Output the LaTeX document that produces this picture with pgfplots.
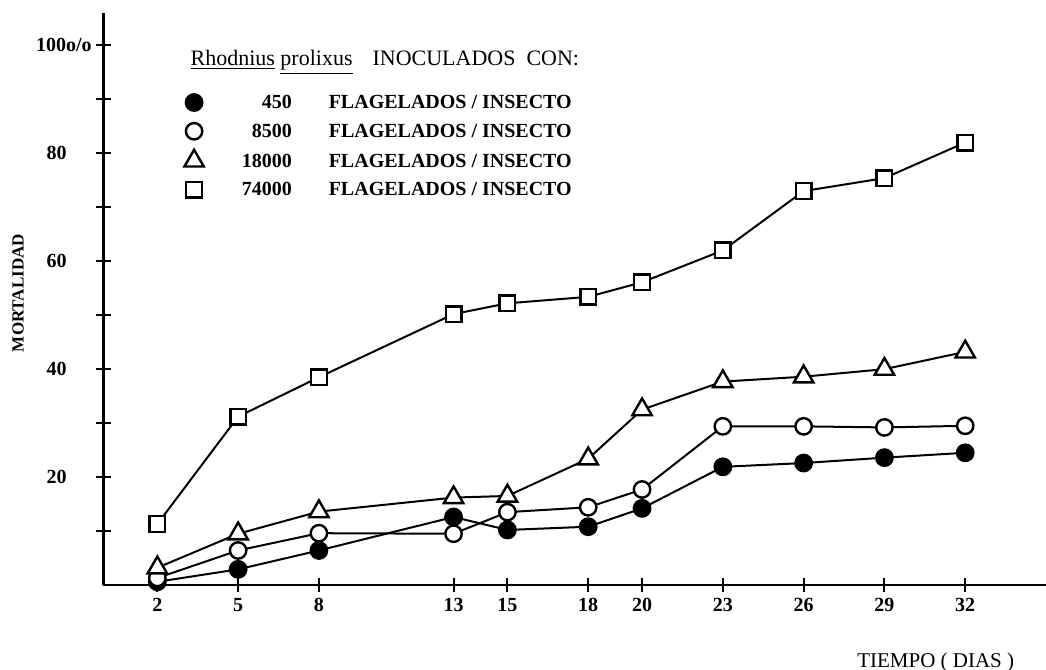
\documentclass[border=0pt]{standalone}
\usepackage{fontspec}
\setmainfont{Liberation Serif}
\usepackage{pgfplots}
\usepackage{pgfplotstable}
\pgfplotsset{compat=1.18}

\pgfplotstableread{
dia  m450 m8500 m18000 m74000
2    0.6  1.3   3.2    11.3
5    2.9  6.4   9.5    31.2
8    6.4  9.6   13.6   38.5
13   12.6 9.5   16.2   50.2
15   10.2 13.5  16.5   52.2
18   10.8 14.4  23.4   53.4
20   14.2 17.7  32.5   56.1
23   21.9 29.4  37.7   62.0
26   22.6 29.4  38.6   73.0
29   23.6 29.2  40.0   75.4
32   24.5 29.5  43.2   82.0
}\datos

\begin{document}
\begin{tikzpicture}
\useasboundingbox (0pt,0pt) rectangle (523pt,335pt);
\begin{axis}[
  at={(51.75pt,42.5pt)}, anchor=south west,
  scale only axis, width=471.25pt, height=286pt,
  xmin=0, xmax=35, ymin=0, ymax=106,
  clip=false,
  axis x line*=bottom, axis y line*=left,
  x axis line style={-}, y axis line style={-},
  axis line style={line width=1.2pt, black},
  xtick={2,5,8,13,15,18,20,23,26,29,32},
  ytick={20,40,60,80},
  minor ytick={10,30,50,70,90},
  extra y ticks={100}, extra y tick labels={100o/o},
  extra y tick style={yticklabel style={xshift=12.5pt}},
  tick align=center, major tick length=7pt, minor tick length=7pt,
  every tick/.style={black, line width=1pt},
  /pgf/number format/assume math mode=true,
  tick label style={font=\fontsize{10}{12}\selectfont\bfseries},
  xticklabel style={anchor=north, inner sep=0pt, yshift=-3pt},
  yticklabel style={anchor=east, inner sep=0pt, xshift=-14.75pt},
  xlabel={TIEMPO ( DIAS )},
  xlabel style={at={(axis description cs:0.883,-0.136)}, anchor=center, font=\fontsize{10.5}{12}\selectfont},
  ylabel={MORTALIDAD},
  ylabel style={at={(axis description cs:-0.0907,0.5105)}, anchor=center, font=\fontsize{8.5}{10}\selectfont\bfseries},
  legend image code/.code={\path[draw=none,fill=none] (-4pt,0pt) rectangle (4pt,6pt); \draw[#1,only marks] plot coordinates {(0pt,0.9pt)};},
  legend style={at={(axis description cs:0.0854,0.862)}, anchor=north west, draw=none, fill=none,
    inner sep=0pt, row sep=3.6pt, column sep=0pt,
    font=\fontsize{10}{12}\selectfont\bfseries,
    nodes={inner sep=0pt, text height=7pt, text depth=2.5pt}},
  legend cell align=left,
]
\addplot[black, line width=1pt, mark=*, mark size=4.1pt, mark options={fill=black, draw=black, line width=1.2pt}]
  table[x=dia, y=m450] {\datos};
\addlegendentry{\makebox[44pt][r]{450}\hspace{18.5pt}FLAGELADOS / INSECTO}
\addplot[black, line width=1pt, mark=*, mark size=4.1pt, mark options={fill=white, draw=black, line width=1.2pt}]
  table[x=dia, y=m8500] {\datos};
\addlegendentry{\makebox[44pt][r]{8500}\hspace{18.5pt}FLAGELADOS / INSECTO}
\addplot[black, line width=1pt, mark=triangle*, mark size=5.6pt, mark options={fill=white, draw=black, line width=1.2pt}]
  table[x=dia, y=m18000] {\datos};
\addlegendentry{\makebox[44pt][r]{18000}\hspace{18.5pt}FLAGELADOS / INSECTO}
\addplot[black, line width=1pt, mark=square*, mark size=3.9pt, mark options={fill=white, draw=black, line width=1.2pt}]
  table[x=dia, y=m74000] {\datos};
\addlegendentry{\makebox[44pt][r]{74000}\hspace{18.5pt}FLAGELADOS / INSECTO}
\node[anchor=base west, inner sep=0pt, font=\fontsize{11}{13}\selectfont] at (axis cs:3.22,96.2)
  {\underline{Rhodnius}\ \underline{prolixus}\hspace{10pt}INOCULADOS\ \ CON:};
\end{axis}
\end{tikzpicture}
\end{document}
